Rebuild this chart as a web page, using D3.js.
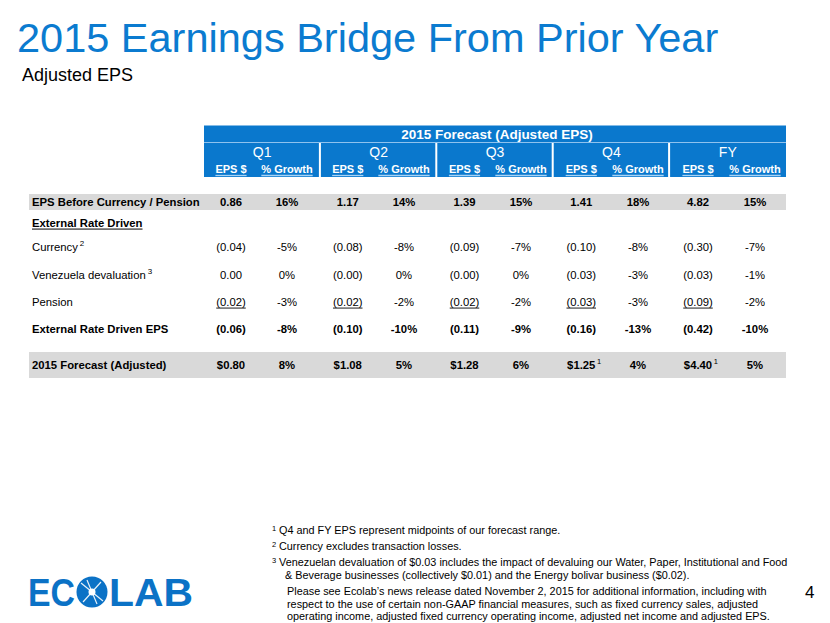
<!DOCTYPE html>
<html><head><meta charset="utf-8">
<script src="https://cdn.jsdelivr.net/npm/d3@7"></script>
<style>
html,body{margin:0;padding:0;background:#fff;}
svg{display:block;font-family:"Liberation Sans",Arial,sans-serif;}
</style></head>
<body>
<svg id="c" width="830" height="623"></svg>
<script>
// ---- Data ----
const periods = ["Q1","Q2","Q3","Q4","FY"];
const subHeaders = ["EPS $","% Growth"];
const rowLabels = ["EPS Before Currency / Pension","External Rate Driven","Currency","Venezuela devaluation","Pension","External Rate Driven EPS","2015 Forecast (Adjusted)"];
const rowLabelSup = ["","","2","3","","",""];
const epsBefore      = ["0.86","1.17","1.39","1.41","4.82"];
const growthBefore   = ["16%","14%","15%","18%","15%"];
const epsCurrency    = ["(0.04)","(0.08)","(0.09)","(0.10)","(0.30)"];
const growthCurrency = ["-5%","-8%","-7%","-8%","-7%"];
const epsVenezuela   = ["0.00","(0.00)","(0.00)","(0.03)","(0.03)"];
const growthVenezuela= ["0%","0%","0%","-3%","-1%"];
const epsPension     = ["(0.02)","(0.02)","(0.02)","(0.03)","(0.09)"];
const growthPension  = ["-3%","-2%","-2%","-3%","-2%"];
const epsExternal    = ["(0.06)","(0.10)","(0.11)","(0.16)","(0.42)"];
const growthExternal = ["-8%","-10%","-9%","-13%","-10%"];
const epsForecast    = ["$0.80","$1.08","$1.28","$1.25","$4.40"];
const epsForecastSup = ["","","","1","1"];
const growthForecast = ["8%","5%","6%","4%","5%"];
const footnotes = [
  {sup:"1", lines:["Q4 and FY EPS represent midpoints of our forecast range."]},
  {sup:"2", lines:["Currency excludes transaction losses."]},
  {sup:"3", lines:["Venezuelan devaluation of $0.03 includes the impact of devaluing our Water, Paper, Institutional and Food","& Beverage businesses (collectively $0.01) and the Energy bolivar business ($0.02)."]},
  {sup:"", lines:["Please see Ecolab\u2019s news release dated November 2, 2015  for additional information, including with","respect to the use of certain non-GAAP financial measures, such as fixed currency sales, adjusted","operating income, adjusted fixed currency operating income, adjusted net income and adjusted EPS."]}
];

const svg = d3.select("#c");
const BLUE = "#0a78cd";
const TITLE_BLUE = "#0b7bd0";

// Title
svg.append("text").attr("x",17).attr("y",52).attr("fill",TITLE_BLUE)
  .attr("font-size",41.5).text("2015 Earnings Bridge From Prior Year");
svg.append("text").attr("x",22).attr("y",81).attr("fill","#000")
  .attr("font-size",18).text("Adjusted EPS");

// Scales
const sectionScale = d3.scaleBand().domain(periods).range([204,786]).paddingInner(0);
const epsX = d3.scalePoint().domain(periods).range([231,698]);
const grX  = d3.scalePoint().domain(periods).range([287,755]);

// Header box
const hdr = svg.append("g");
hdr.append("rect").attr("x",204).attr("y",125.5).attr("width",582).attr("height",51.5).attr("fill",BLUE);
hdr.append("line").attr("x1",204).attr("x2",786).attr("y1",142.5).attr("y2",142.5).attr("stroke","#8fc2ee").attr("stroke-width",1.2);
periods.slice(1).forEach(p=>{
  hdr.append("rect").attr("x",sectionScale(p)-1.5).attr("y",143).attr("width",2).attr("height",34).attr("fill","#fff");
});
hdr.append("text").attr("x",497).attr("y",139).attr("text-anchor","middle").attr("fill","#fff")
  .attr("font-size",13.5).attr("font-weight","bold").text("2015 Forecast (Adjusted EPS)");
periods.forEach(p=>{
  hdr.append("text").attr("x",sectionScale(p)+sectionScale.bandwidth()/2).attr("y",157)
    .attr("text-anchor","middle").attr("fill","#fff").attr("font-size",14).text(p);
  [[epsX(p),subHeaders[0]],[grX(p),subHeaders[1]]].forEach(([x,t])=>{
    const tx = hdr.append("text").attr("x",x).attr("y",173).attr("text-anchor","middle")
      .attr("fill","#fff").attr("font-size",11).attr("font-weight","bold").text(t);
    const w = tx.node().getComputedTextLength();
    hdr.append("line").attr("x1",x-w/2).attr("x2",x+w/2).attr("y1",175.5).attr("y2",175.5)
      .attr("stroke","#a9d3f5").attr("stroke-width",1.3);
  });
});

// Body rows
const rowY = [201.5,223,247,275,302,329,365];
const rows = [
  {eps:epsBefore, gr:growthBefore, bold:true, shade:[194,210]},
  {eps:null, gr:null, bold:true, underlineLabel:true},
  {eps:epsCurrency, gr:growthCurrency, bold:false},
  {eps:epsVenezuela, gr:growthVenezuela, bold:false},
  {eps:epsPension, gr:growthPension, bold:false, underlineEps:true},
  {eps:epsExternal, gr:growthExternal, bold:true},
  {eps:epsForecast, gr:growthForecast, bold:true, shade:[352,378], epsSup:epsForecastSup}
];
const body = svg.append("g");
const FS = 11.3;
rows.forEach((r,i)=>{
  const y = rowY[i];
  const base = y + FS*0.36;
  if(r.shade){
    body.append("rect").attr("x",29).attr("y",r.shade[0]).attr("width",757).attr("height",r.shade[1]-r.shade[0]).attr("fill","#d9d9d9");
  }
  const lab = body.append("text").attr("x",32).attr("y",base).attr("font-size",FS)
    .attr("font-weight",r.bold?"bold":"normal").attr("fill","#000").text(rowLabels[i]);
  const lw = lab.node().getComputedTextLength();
  if(r.underlineLabel){
    body.append("line").attr("x1",32).attr("x2",32+lw).attr("y1",base+2).attr("y2",base+2).attr("stroke","#000").attr("stroke-width",1);
  }
  if(rowLabelSup[i]){
    body.append("text").attr("x",32+lw+2).attr("y",base-5).attr("font-size",8).attr("fill","#000").text(rowLabelSup[i]);
  }
  if(r.eps){
    periods.forEach((p,j)=>{
      const t = body.append("text").attr("x",epsX(p)).attr("y",base).attr("text-anchor","middle")
        .attr("font-size",FS).attr("font-weight",r.bold?"bold":"normal").attr("fill","#000").text(r.eps[j]);
      const w = t.node().getComputedTextLength();
      if(r.underlineEps){
        body.append("line").attr("x1",epsX(p)-w/2).attr("x2",epsX(p)+w/2).attr("y1",base+2).attr("y2",base+2).attr("stroke","#000").attr("stroke-width",0.9);
      }
      if(r.epsSup && r.epsSup[j]){
        body.append("text").attr("x",epsX(p)+w/2+1.5).attr("y",base-5).attr("font-size",7.5).attr("fill","#000").text(r.epsSup[j]);
      }
      body.append("text").attr("x",grX(p)).attr("y",base).attr("text-anchor","middle")
        .attr("font-size",FS).attr("font-weight",r.bold?"bold":"normal").attr("fill","#000").text(r.gr[j]);
    });
  }
});

// Footnotes
const fn = svg.append("g").attr("font-size",10.85).attr("fill","#000");
const fnBase = [533.5,549.5,565.5,578.5,595,607.5,620];
let li = 0;
footnotes.forEach(f=>{
  f.lines.forEach((line,k)=>{
    const yb = fnBase[li];
    if(k===0 && f.sup){
      fn.append("text").attr("x",272).attr("y",yb-3).attr("font-size",7.5).text(f.sup);
    }
    fn.append("text").attr("x",f.sup? (k===0?279:285) : 287).attr("y",yb).text(line);
    li++;
  });
});

// Page number
svg.append("text").attr("x",805).attr("y",598).attr("font-size",17).attr("fill","#000").text("4");

// Logo
const LOGO = "#0b72c6";
const logo = svg.append("g");
logo.append("text").attr("x",28).attr("y",606).attr("font-size",39).attr("font-weight","bold")
  .attr("fill",LOGO).attr("textLength",47).attr("lengthAdjust","spacingAndGlyphs").text("EC");
logo.append("circle").attr("cx",92).attr("cy",592).attr("r",15.5).attr("fill",LOGO);
const star = logo.append("g").attr("transform","translate(92,592)");
[[-11,-9,11,9],[-9,10,9,-10],[-5,-12,5,12]].forEach(s=>{
  star.append("line").attr("x1",s[0]).attr("y1",s[1]).attr("x2",s[2]).attr("y2",s[3])
    .attr("stroke","#fff").attr("stroke-width",1.2).attr("opacity",0.9);
});
star.append("circle").attr("r",3.5).attr("fill","#fff");
logo.append("text").attr("x",109).attr("y",606).attr("font-size",39).attr("font-weight","bold")
  .attr("fill",LOGO).attr("textLength",84).attr("lengthAdjust","spacingAndGlyphs").text("LAB");
</script>
</body></html>
